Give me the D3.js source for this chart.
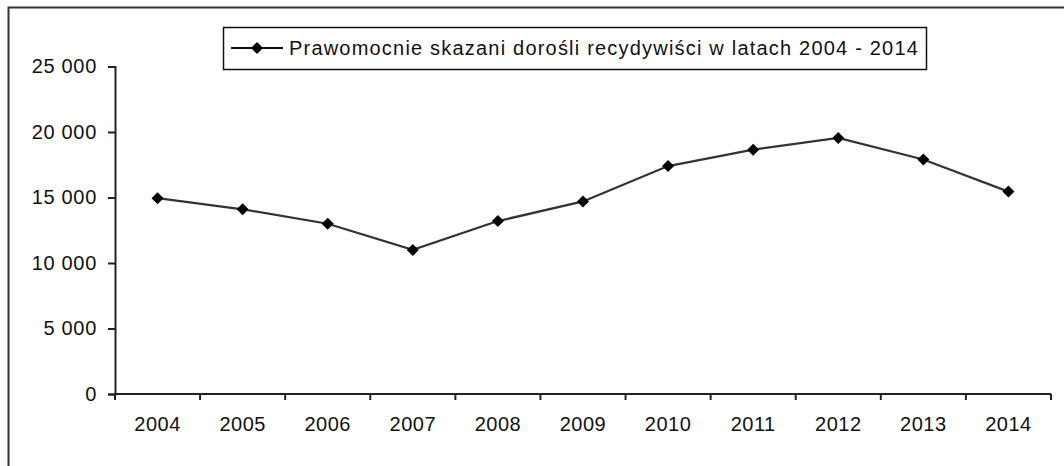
<!DOCTYPE html>
<html>
<head>
<meta charset="utf-8">
<script src="https://cdn.jsdelivr.net/npm/d3@7"></script>
<style>
  html, body { margin: 0; padding: 0; background: #fff; }
  svg { display: block; }
  text { font-family: "Liberation Sans", Arial, sans-serif; fill: #111; }
</style>
</head>
<body>
<svg id="chart" width="1064" height="466"></svg>
<script>
// Adult repeat offenders with final convictions, 2004–2014
const years = ["2004", "2005", "2006", "2007", "2008", "2009", "2010", "2011", "2012", "2013", "2014"];
const convicted = [14950, 14100, 13000, 11000, 13200, 14700, 17400, 18650, 19550, 17900, 15450];
const yTicks = [0, 5000, 10000, 15000, 20000, 25000];
const seriesName = "Prawomocnie skazani dorośli recydywiści w latach 2004 - 2014";

const svg = d3.select("#chart");
const W = 1064, H = 466;
const plot = { left: 115, right: 1051, top: 66.5, bottom: 394 };

const locale = d3.formatLocale({ decimal: ",", thousands: " ", grouping: [3], currency: ["", " zł"] });
const fmt = locale.format(",d");

const x = d3.scaleBand().domain(years).range([plot.left, plot.right]).padding(0);
const y = d3.scaleLinear().domain([0, 25000]).range([plot.bottom, plot.top]);

// outer chart frame
svg.append("rect")
  .attr("x", 8.5).attr("y", 7.5)
  .attr("width", W + 20).attr("height", H + 20)
  .attr("fill", "none").attr("stroke", "#333").attr("stroke-width", 2);

// y axis
const yAxis = svg.append("g")
  .attr("transform", `translate(${plot.left},0)`)
  .call(d3.axisLeft(y).tickValues(yTicks).tickSize(7).tickPadding(11).tickFormat(fmt));
yAxis.select(".domain").attr("stroke", "#222").attr("stroke-width", 2);
yAxis.selectAll(".tick line").attr("stroke", "#222").attr("stroke-width", 2);
yAxis.selectAll(".tick text").style("font-size", "20px").style("letter-spacing", "0.7px").attr("fill", "#111");

// x axis: labels centred in each band, ticks on band boundaries
const xAxis = svg.append("g")
  .attr("transform", `translate(0,${plot.bottom})`)
  .call(d3.axisBottom(x).tickSize(0).tickPadding(23));
xAxis.select(".domain").remove();
xAxis.selectAll(".tick text").style("font-size", "20px").style("letter-spacing", "0.5px").attr("fill", "#111");

const bounds = years.map(d => x(d)).concat([x(years[years.length - 1]) + x.bandwidth()]);
svg.append("line")
  .attr("x1", plot.left).attr("x2", plot.right)
  .attr("y1", plot.bottom).attr("y2", plot.bottom)
  .attr("stroke", "#222").attr("stroke-width", 2);
svg.append("g").selectAll("line").data(bounds).join("line")
  .attr("x1", d => d).attr("x2", d => d)
  .attr("y1", plot.bottom).attr("y2", plot.bottom + 6)
  .attr("stroke", "#222").attr("stroke-width", 2);

// series line
const pts = years.map((d, i) => [x(d) + x.bandwidth() / 2, y(convicted[i])]);
svg.append("path")
  .attr("d", d3.line()(pts))
  .attr("fill", "none").attr("stroke", "#333").attr("stroke-width", 2.2);

const diamond = d3.symbol().type(d3.symbolDiamond2).size(92);
svg.append("g").selectAll("path").data(pts).join("path")
  .attr("transform", d => `translate(${d[0]},${d[1]})`)
  .attr("d", diamond)
  .attr("fill", "#000");

// legend
const lg = svg.append("g");
lg.append("rect")
  .attr("x", 223.5).attr("y", 27.5).attr("width", 703).attr("height", 42)
  .attr("fill", "#fff").attr("stroke", "#111").attr("stroke-width", 1.5);
lg.append("line")
  .attr("x1", 231).attr("x2", 283).attr("y1", 48).attr("y2", 48)
  .attr("stroke", "#111").attr("stroke-width", 2);
lg.append("path")
  .attr("transform", "translate(257,48)")
  .attr("d", diamond).attr("fill", "#000");
lg.append("text")
  .attr("x", 289).attr("y", 48).attr("dy", "0.35em")
  .style("font-size", "20px")
  .style("letter-spacing", "1.2px")
  .text(seriesName);
</script>
</body>
</html>
